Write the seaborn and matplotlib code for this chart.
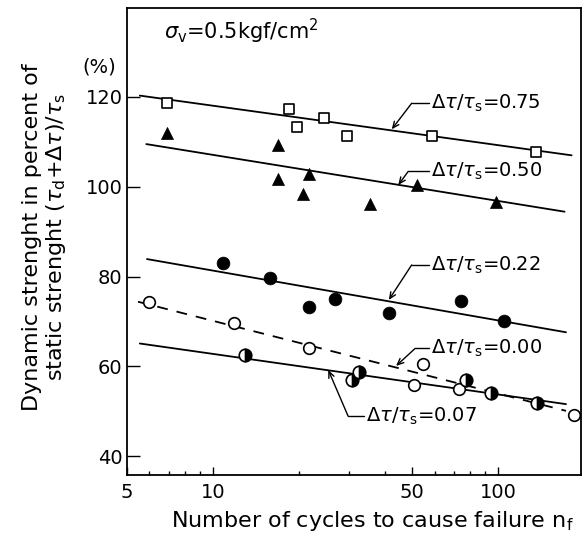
import numpy as np
import pandas as pd
import matplotlib
matplotlib.use("Agg")
import matplotlib.pyplot as plt
import seaborn as sns
from matplotlib.ticker import FixedLocator, NullFormatter

# ---- data ----
sq_x = [6.9, 18.5, 19.7, 24.6, 29.5, 58.5, 136]
sq_y = [118.7, 117.3, 113.3, 115.3, 111.2, 111.2, 107.8]

tri_x = [6.9, 16.9, 16.9, 21.7, 20.7, 35.6, 51.8, 98.4]
tri_y = [111.9, 109.3, 101.7, 102.9, 98.3, 96.1, 100.3, 96.7]

fc_x = [10.9, 15.85, 21.8, 26.8, 41.4, 74.1, 105]
fc_y = [83.0, 79.6, 73.3, 75.0, 72.0, 74.6, 70.0]

oc_x = [5.98, 11.9, 21.8, 54.4, 50.7, 73.1, 185]
oc_y = [74.4, 69.7, 64.2, 60.5, 55.8, 55.0, 49.2]

hc_x = [12.95, 32.6, 30.8, 77.0, 94.3, 136.5]
hc_y = [62.5, 58.8, 57.0, 57.0, 54.0, 51.9]

# fitted lines (end points)
fit_names = ["0.75", "0.50", "0.22", "0.00", "0.07"]
fit_x = [[5.55, 181], [5.85, 171], [5.88, 173], [5.47, 173], [5.55, 173]]
fit_y = [[120.3, 107.0], [109.5, 94.45], [83.9, 67.6], [74.4, 50.1], [65.1, 51.6]]

# annotations: arrow tip, leader corner, text start x
ann_point = [(42.4, 112.8), (44.7, 100.4), (41.4, 74.8), (43.9, 60.1), (25.4, 59.2)]
ann_corner = [(49.8, 118.6), (48.4, 103.4), (49.8, 82.6), (51.2, 64.0), (29.8, 48.95)]
ann_text_x = [58.0, 58.0, 58.0, 58.0, 34.5]

x_major = [5, 10, 50, 100]
x_minor = [6, 7, 8, 9, 20, 30, 40, 60, 70, 80, 90]
y_ticks = [40, 60, 80, 100, 120]

# ---- figure ----
sns.set_style("ticks")
plt.rcParams["font.family"] = ["DejaVu Sans"]
plt.rcParams["mathtext.fontset"] = "dejavusans"
plt.rcParams["text.color"] = "black"
plt.rcParams["axes.labelcolor"] = "black"
plt.rcParams["xtick.color"] = "black"
plt.rcParams["ytick.color"] = "black"

fig = plt.figure(figsize=(5.82, 5.35), dpi=100)
ax = fig.add_axes([0.218, 0.112, 0.780, 0.873])

ax.set_xscale("log")
ax.set_xlim(5, 195)
ax.set_ylim(35.8, 139.8)

# fit lines
for name, xs, ys in zip(fit_names, fit_x, fit_y):
    df = pd.DataFrame({"x": xs, "y": ys})
    ls = (0, (6, 5)) if name == "0.00" else "-"
    sns.lineplot(data=df, x="x", y="y", ax=ax, color="black", lw=1.3,
                 linestyle=ls, estimator=None, sort=False)

# points
sns.scatterplot(x=sq_x, y=sq_y, ax=ax, marker="s", s=50, facecolor="white",
                edgecolor="black", linewidth=1.2, zorder=5)
sns.scatterplot(x=tri_x, y=tri_y, ax=ax, marker="^", s=75, color="black",
                edgecolor="black", linewidth=0.5, zorder=5)
sns.scatterplot(x=fc_x, y=fc_y, ax=ax, marker="o", s=85, color="black",
                edgecolor="black", linewidth=0.5, zorder=5)
sns.scatterplot(x=oc_x, y=oc_y, ax=ax, marker="o", s=70, facecolor="white",
                edgecolor="black", linewidth=1.2, zorder=5)
ax.plot(hc_x, hc_y, linestyle="", marker="o", markersize=9, fillstyle="right",
        markerfacecolor="black", markerfacecoloralt="white",
        markeredgecolor="black", markeredgewidth=1.2, zorder=6)

# annotations
for name, pt, cn, tx in zip(fit_names, ann_point, ann_corner, ann_text_x):
    ax.plot([cn[0], tx * 0.985], [cn[1], cn[1]], color="black", lw=1.0)
    ax.annotate("", xy=pt, xytext=cn,
                arrowprops=dict(arrowstyle="->,head_length=0.45,head_width=0.2",
                                color="black", lw=1.0, shrinkA=0, shrinkB=0))
    ax.text(tx, cn[1], r"$\Delta\tau/\tau_\mathrm{s}$=" + name, fontsize=14,
            ha="left", va="center")

ax.text(6.75, 134.5, r"$\sigma_\mathrm{v}$=0.5kgf/cm$^2$", fontsize=15,
        ha="left", va="center")
fig.text(99 / 582, 1 - 67 / 535, "(%)", fontsize=14, ha="center", va="center")

# axes styling
for sp in ax.spines.values():
    sp.set_visible(True)
    sp.set_linewidth(1.3)
    sp.set_color("black")

ax.xaxis.set_major_locator(FixedLocator(x_major))
ax.xaxis.set_minor_locator(FixedLocator(x_minor))
ax.set_xticklabels([str(v) for v in x_major])
ax.xaxis.set_minor_formatter(NullFormatter())
ax.tick_params(axis="x", which="major", direction="in", length=6, width=1.0,
               labelsize=14, pad=6)
ax.tick_params(axis="x", which="minor", direction="in", length=3, width=1.0)

ax.set_yticks(y_ticks)
ax.set_yticklabels([str(v) for v in y_ticks])
ax.tick_params(axis="y", which="major", direction="in", length=9, width=1.0,
               labelsize=14, pad=3)
ax.tick_params(axis="y", which="minor", left=False)

ax.set_xlabel(r"Number of cycles to cause failure n$_\mathrm{f}$", fontsize=16)
ax.xaxis.set_label_coords(0.54, -0.072)
ax.set_ylabel("Dynamic strenght in percent of\n"
              r"static strenght ($\tau_\mathrm{d}$+$\Delta\tau$)/$\tau_\mathrm{s}$",
              fontsize=16, linespacing=1.1)
ax.yaxis.set_label_coords(-0.13, 0.51)

fig.savefig("out.png", dpi=100)
